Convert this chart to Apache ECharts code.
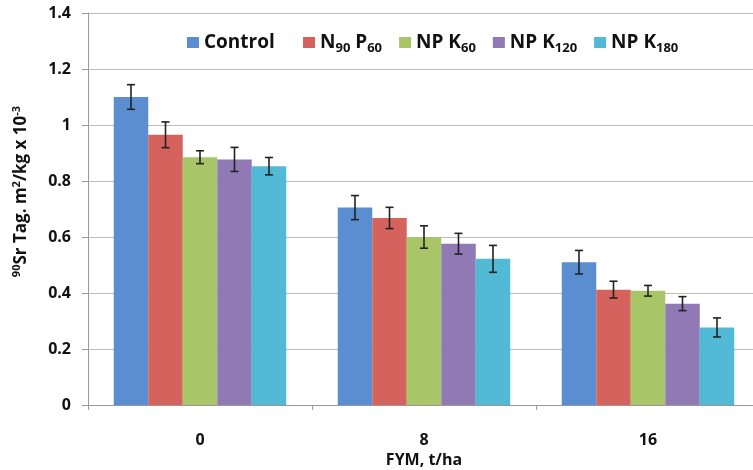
<!DOCTYPE html>
<html><head><meta charset="utf-8">
<script src="https://cdn.jsdelivr.net/npm/echarts@6/dist/echarts.min.js"></script>
<style>html,body{margin:0;padding:0;background:#fff}#c{width:753px;height:470px}</style>
</head><body><div id="c"></div>
<script>
const categories = ['0', '8', '16'];
const seriesNames = ['Control', 'N90 P60', 'NP K60', 'NP K120', 'NP K180'];
const control = [1.10, 0.705, 0.51];
const n90p60 = [0.965, 0.668, 0.412];
const npk60 = [0.885, 0.600, 0.408];
const npk120 = [0.877, 0.576, 0.362];
const npk180 = [0.853, 0.522, 0.277];
const errControl = [0.044, 0.043, 0.042];
const errN90p60 = [0.046, 0.038, 0.030];
const errNpk60 = [0.023, 0.040, 0.019];
const errNpk120 = [0.043, 0.037, 0.025];
const errNpk180 = [0.031, 0.048, 0.034];
const yTicks = [0, 0.2, 0.4, 0.6, 0.8, 1, 1.2, 1.4];

const values = [control, n90p60, npk60, npk120, npk180];
const errors = [errControl, errN90p60, errNpk60, errNpk120, errNpk180];
const colors = ['#5A8ED0', '#D5625C', '#A8C567', '#9079B5', '#52BAD4'];
const FONT = 'Open Sans';
const GAP = 0.23;

const legendLabel = {
  'Control': 'Control',
  'N90 P60': 'N{sub|90} P{sub|60}',
  'NP K60': 'NP K{sub|60}',
  'NP K120': 'NP K{sub|120}',
  'NP K180': 'NP K{sub|180}'
};

const series = [];
values.forEach((vals, i) => {
  series.push({
    name: seriesNames[i], type: 'bar', data: vals,
    barGap: '0%', barCategoryGap: (GAP * 100) + '%',
    itemStyle: { color: colors[i] }
  });
});
values.forEach((vals, i) => {
  series.push({
    type: 'custom', silent: true, z: 10,
    data: vals.map((v, j) => [j, v - errors[i][j], v + errors[i][j]]),
    renderItem: function (params, api) {
      const cat = api.value(0);
      const lo = api.coord([cat, api.value(1)]);
      const hi = api.coord([cat, api.value(2)]);
      const catW = api.size([1, 0])[0];
      const bw = catW * (1 - GAP) / 5;
      const x = lo[0] + (i - 2) * bw;
      const cap = 4;
      const st = { stroke: '#222', lineWidth: 1.6 };
      return { type: 'group', children: [
        { type: 'line', shape: { x1: x, y1: lo[1], x2: x, y2: hi[1] }, style: st },
        { type: 'line', shape: { x1: x - cap, y1: lo[1], x2: x + cap, y2: lo[1] }, style: st },
        { type: 'line', shape: { x1: x - cap, y1: hi[1], x2: x + cap, y2: hi[1] }, style: st }
      ]};
    }
  });
});

const legendText = {
  fontFamily: FONT, fontWeight: 'bold', fontSize: 19, color: '#111',
  rich: { sub: { fontFamily: FONT, fontWeight: 'bold', fontSize: 13, color: '#111', padding: [12, 0, 0, 0] } }
};
const legendBase = {
  top: 28, itemWidth: 12, itemHeight: 11, icon: 'rect',
  formatter: name => legendLabel[name], textStyle: legendText
};

const chart = echarts.init(document.getElementById('c'), null, { renderer: 'canvas' });
chart.setOption({
  animation: false,
  textStyle: { fontFamily: FONT },
  grid: { left: 88, right: -7, top: 13, bottom: 65, containLabel: false, outerBoundsMode: 'none' },
  legend: [
    Object.assign({}, legendBase, { data: [seriesNames[0]], left: 182 }),
    Object.assign({}, legendBase, { data: seriesNames.slice(1), left: 298, itemGap: 17 })
  ],
  graphic: [{
    type: 'text', left: 11, top: 106, rotation: Math.PI / 2,
    style: {
      text: '{sup|90}Sr Tag. m{sup|2}/kg x 10{sup|-3}',
      fontFamily: FONT, fontWeight: 'bold', fontSize: 17, fill: '#111',
      rich: { sup: { fontFamily: FONT, fontWeight: 'bold', fontSize: 11, fill: '#111', padding: [0, 0, 9, 0] } }
    }
  }],
  xAxis: {
    type: 'category', data: categories,
    name: 'FYM, t/ha', nameLocation: 'middle', nameGap: 47,
    nameTextStyle: { fontFamily: FONT, fontWeight: 'bold', fontSize: 16, color: '#111' },
    axisLine: { lineStyle: { color: '#999', width: 1 } },
    axisTick: { show: true, length: 5, lineStyle: { color: '#999' } },
    axisLabel: { margin: 27, fontFamily: FONT, fontWeight: 'bold', fontSize: 16, color: '#111' }
  },
  yAxis: {
    type: 'value', min: 0, max: 1.4, interval: 0.2,
    axisLine: { show: true, lineStyle: { color: '#999', width: 1 } },
    axisTick: { show: true, length: 6, lineStyle: { color: '#999' } },
    splitLine: { lineStyle: { color: '#bcbcbc', width: 1.2 } },
    axisLabel: {
      margin: 17, fontFamily: FONT, fontWeight: 'bold', fontSize: 16, color: '#111',
      formatter: v => { const t = yTicks.find(k => Math.abs(k - v) < 1e-9); return t === undefined ? '' : String(t); }
    }
  },
  series: series
});
</script></body></html>
